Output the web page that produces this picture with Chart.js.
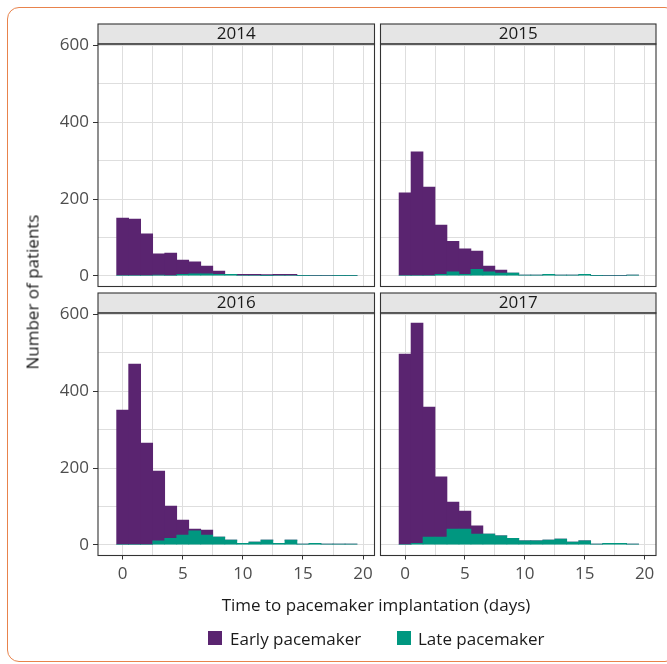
<!DOCTYPE html>
<html>
<head>
<meta charset="utf-8">
<script src="https://cdn.jsdelivr.net/npm/chart.js@4/dist/chart.umd.min.js"></script>
<style>
  html, body { margin: 0; padding: 0; background: #fff; }
  #wrap { position: relative; width: 667px; height: 664px; overflow: hidden; font-family: "Open Sans", sans-serif; color: #1a1a1a; }
  #wrap canvas { position: absolute; left: 0; top: 0; }
  #frame { position: absolute; left: 7px; top: 7px; width: 670px; height: 655px; border: 1.5px solid #e8834c; border-radius: 12px; box-sizing: border-box; }
  .txt { position: absolute; white-space: nowrap; font-size: 17px; }
  #ytitle { left: 32px; top: 292px; transform: translate(-50%, -50%) rotate(-90deg); }
  #xtitle { left: 376px; top: 604px; transform: translate(-50%, -50%); }
  .key { position: absolute; width: 14px; height: 14px; top: 631px; }
</style>
</head>
<body>
<div id="wrap">
  <div id="frame"></div>
  <canvas id="c2014" width="667" height="664"></canvas>
  <canvas id="c2015" width="667" height="664"></canvas>
  <canvas id="c2016" width="667" height="664"></canvas>
  <canvas id="c2017" width="667" height="664"></canvas>
  <div class="txt" id="ytitle">Number of patients</div>
  <div class="txt" id="xtitle">Time to pacemaker implantation (days)</div>
  <div class="key" style="left:208px;background:#5a2470"></div>
  <div class="txt" style="left:230px;top:638px;transform:translateY(-50%)">Early pacemaker</div>
  <div class="key" style="left:397px;background:#009780"></div>
  <div class="txt" style="left:418px;top:638px;transform:translateY(-50%)">Late pacemaker</div>
</div>
<script>
// 일수 구간 (0~19일, 1일 폭)
const days = [0, 1, 2, 3, 4, 5, 6, 7, 8, 9, 10, 11, 12, 13, 14, 15, 16, 17, 18, 19];
const years = ['2014', '2015', '2016', '2017'];

const early2014 = [150, 148, 109, 55, 59, 37, 31, 20, 8, 0, 4, 4, 2, 4, 4, 0, 1, 1, 0, 0];
const late2014 = [0, 0, 0, 2, 0, 4, 5, 5, 4, 4, 0, 0, 1, 0, 0, 1, 0, 0, 1, 1];
const early2015 = [216, 323, 231, 128, 80, 66, 47, 15, 8, 0, 0, 0, 0, 0, 0, 0, 0, 1, 1, 0];
const late2015 = [0, 0, 0, 4, 10, 4, 17, 10, 7, 7, 2, 2, 4, 2, 2, 4, 1, 0, 0, 2];
const early2016 = [351, 471, 265, 182, 84, 39, 5, 13, 0, 0, 0, 0, 0, 0, 0, 0, 0, 0, 0, 0];
const late2016 = [0, 0, 0, 10, 17, 25, 36, 25, 20, 12, 4, 7, 12, 4, 12, 2, 4, 2, 2, 2];
const early2017 = [497, 574, 339, 157, 70, 47, 21, 0, 0, 0, 0, 0, 0, 0, 0, 0, 0, 0, 0, 0];
const late2017 = [0, 4, 20, 20, 41, 41, 28, 28, 23, 17, 10, 10, 12, 15, 7, 10, 2, 4, 4, 2];

const yTicks = [0, 100, 200, 300, 400, 500, 600];
const xTicks = [0, 2.5, 5, 7.5, 10, 12.5, 15, 17.5, 20];

const earlyColor = '#5a2470';
const lateColor = '#009780';

const series = {
    '2014': [early2014, late2014],
    '2015': [early2015, late2015],
    '2016': [early2016, late2016],
    '2017': [early2017, late2017]
};

// 패널 위치 (ggplot facet 2x2)
const cols = [{ left: 98, right: 374.5 }, { left: 380.5, right: 656 }];
const rows = [{ top: 44, bottom: 286.5 }, { top: 313, bottom: 555.5 }];
// 눈금 라벨 영역 크기
const yAxisWidth = 60;
const xAxisHeight = 32;

const font = { family: '"Open Sans", sans-serif', size: 17 };

// 스트립(연도)과 패널 테두리
const panelFrame = {
    id: 'panelFrame',
    afterDraw(chart) {
        const { ctx, chartArea } = chart;
        const w = chartArea.right - chartArea.left;
        ctx.save();
        ctx.fillStyle = '#e5e5e5';
        ctx.fillRect(chartArea.left, chartArea.top - 20, w, 20);
        ctx.strokeStyle = '#333333';
        ctx.lineWidth = 1.1;
        ctx.strokeRect(chartArea.left, chartArea.top - 20, w, 20);
        ctx.strokeRect(chartArea.left, chartArea.top, w, chartArea.bottom - chartArea.top);
        ctx.fillStyle = '#1a1a1a';
        ctx.font = '17px "Open Sans", sans-serif';
        ctx.textAlign = 'center';
        ctx.textBaseline = 'middle';
        ctx.fillText(chart.$year, chartArea.left + w / 2, chartArea.top - 10);
        ctx.restore();
    }
};

years.forEach((year, i) => {
    const col = cols[i % 2];
    const row = rows[Math.floor(i / 2)];
    const showY = i % 2 === 0;
    const showX = i >= 2;
    const [early, late] = series[year];
    const yw = showY ? yAxisWidth : 0;
    const xh = showX ? xAxisHeight : 0;

    const chart = new Chart(document.getElementById('c' + year), {
        type: 'bar',
        plugins: [panelFrame],
        data: {
            datasets: [
                {
                    label: 'Late pacemaker',
                    data: days.map((d, k) => ({ x: d, y: late[k] })),
                    backgroundColor: lateColor,
                    borderWidth: 0,
                    barPercentage: 1,
                    categoryPercentage: 1
                },
                {
                    label: 'Early pacemaker',
                    data: days.map((d, k) => ({ x: d, y: early[k] })),
                    backgroundColor: earlyColor,
                    borderWidth: 0,
                    barPercentage: 1,
                    categoryPercentage: 1
                }
            ]
        },
        options: {
            responsive: false,
            animation: false,
            devicePixelRatio: 1,
            events: [],
            layout: {
                padding: { left: col.left - yw, right: 667 - col.right, top: row.top, bottom: 664 - row.bottom - xh }
            },
            plugins: { legend: { display: false }, tooltip: { enabled: false } },
            scales: {
                x: {
                    type: 'linear',
                    stacked: true,
                    offset: false,
                    min: -2.05,
                    max: 20.95,
                    afterFit(s) { s.height = xh; },
                    afterBuildTicks(s) { s.ticks = xTicks.map(v => ({ value: v })); },
                    border: { display: false },
                    grid: {
                        offset: false,
                        color: '#dedede',
                        lineWidth: 1,
                        tickLength: 4,
                        tickColor(ctx) {
                            return showX && ctx.tick && ctx.tick.value % 5 === 0 ? '#333333' : 'rgba(0,0,0,0)';
                        }
                    },
                    ticks: {
                        display: showX,
                        padding: 4,
                        color: '#4d4d4d',
                        font,
                        maxRotation: 0,
                        autoSkip: false,
                        callback(v) { return v % 5 === 0 ? String(v) : ''; }
                    }
                },
                y: {
                    type: 'linear',
                    stacked: true,
                    min: -28,
                    max: 604,
                    afterFit(s) { s.width = yw; },
                    afterBuildTicks(s) { s.ticks = yTicks.map(v => ({ value: v })); },
                    border: { display: false },
                    grid: {
                        color: '#dedede',
                        lineWidth: 1,
                        tickLength: 5,
                        tickColor(ctx) {
                            return showY && ctx.tick && ctx.tick.value % 200 === 0 ? '#333333' : 'rgba(0,0,0,0)';
                        }
                    },
                    ticks: {
                        display: showY,
                        padding: 4,
                        color: '#4d4d4d',
                        font,
                        callback(v) { return v % 200 === 0 ? String(v) : ''; }
                    }
                }
            }
        }
    });
    chart.$year = year;
    chart.draw();
});
</script>
</body>
</html>
